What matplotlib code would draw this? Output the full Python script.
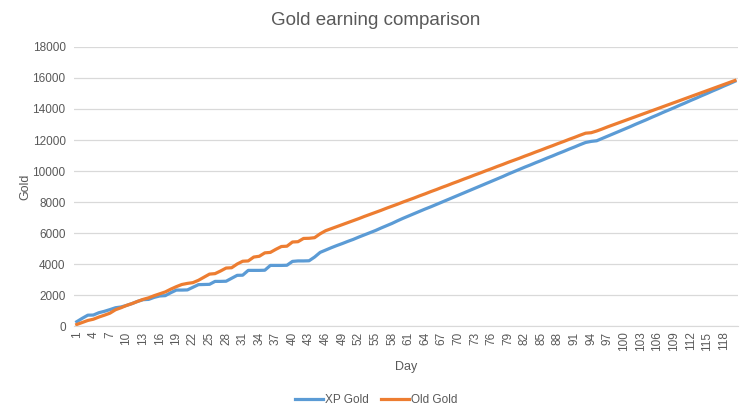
import numpy as np
import matplotlib
matplotlib.use('Agg')
import matplotlib.pyplot as plt

plt.rcParams['font.family'] = ['Liberation Sans', 'DejaVu Sans']

# 数据
days = list(range(1, 121))

xp_gold = [
    280, 500, 700, 710, 860, 950, 1060, 1180, 1230, 1330,
    1450, 1590, 1700, 1720, 1850, 1940, 1960, 2150, 2320, 2320,
    2330, 2500, 2670, 2680, 2690, 2880, 2880, 2890, 3080, 3270,
    3280, 3590, 3590, 3590, 3600, 3910, 3910, 3910, 3920, 4170,
    4200, 4200, 4210, 4450, 4750, 4900, 5050, 5190, 5320, 5460,
    5590, 5740, 5880, 6020, 6160, 6320, 6470, 6620, 6790, 6950,
    7100, 7250, 7400, 7550, 7690, 7840, 7990, 8140, 8290, 8440,
    8590, 8740, 8890, 9040, 9190, 9340, 9490, 9640, 9800, 9950,
    10100, 10250, 10390, 10540, 10680, 10830, 10970, 11120, 11260, 11410,
    11550, 11700, 11840, 11910, 11950, 12100, 12250, 12400, 12550, 12700,
    12850, 13010, 13160, 13310, 13470, 13620, 13780, 13930, 14080, 14240,
    14390, 14550, 14700, 14860, 15010, 15170, 15320, 15480, 15630, 15790,
]

old_gold = [
    100, 230, 360, 440, 580, 700, 830, 1050, 1180, 1330,
    1450, 1590, 1720, 1820, 1960, 2080, 2200, 2380, 2540, 2680,
    2750, 2800, 2950, 3150, 3350, 3380, 3550, 3740, 3760, 4000,
    4180, 4200, 4450, 4500, 4720, 4750, 4950, 5130, 5150, 5420,
    5440, 5650, 5660, 5700, 5950, 6150, 6280, 6410, 6540, 6670,
    6800, 6930, 7070, 7200, 7330, 7460, 7600, 7730, 7860, 8000,
    8130, 8260, 8400, 8530, 8670, 8800, 8940, 9070, 9210, 9340,
    9480, 9610, 9750, 9880, 10020, 10150, 10290, 10420, 10560, 10690,
    10820, 10960, 11090, 11230, 11360, 11500, 11630, 11770, 11900, 12040,
    12170, 12310, 12440, 12470, 12580, 12710, 12850, 12980, 13110, 13240,
    13370, 13500, 13630, 13760, 13890, 14020, 14150, 14280, 14410, 14540,
    14670, 14800, 14930, 15060, 15190, 15320, 15450, 15580, 15710, 15840,
]

y_ticks = [0, 2000, 4000, 6000, 8000, 10000, 12000, 14000, 16000, 18000]

fig = plt.figure(figsize=(7.52, 4.18), dpi=100)
ax = fig.add_axes([0.0984, 0.220, 0.8826, 0.6676])

ax.plot(days, xp_gold, color='#5B9BD5', lw=2.3, label='XP Gold', solid_joinstyle='round')
ax.plot(days, old_gold, color='#ED7D31', lw=2.3, label='Old Gold', solid_joinstyle='round')

ax.set_xlim(0.5, 120.5)
ax.set_ylim(0, 18000)
ax.set_yticks(y_ticks)
ax.set_yticklabels([str(v) for v in y_ticks])
ax.set_xticks(days[::3])
ax.set_xticklabels([str(d) for d in days[::3]], rotation=90)

ax.grid(axis='y', color='#D9D9D9', lw=0.9)
ax.set_axisbelow(True)
for s in ['top', 'right', 'left']:
    ax.spines[s].set_visible(False)
ax.spines['bottom'].set_color('#D9D9D9')
ax.tick_params(axis='both', length=0, labelsize=8.5, labelcolor='#595959', pad=6)
ax.tick_params(axis='x', pad=4)

ax.set_xlabel('Day', fontsize=9, color='#595959', labelpad=7)
ax.set_ylabel('Gold', fontsize=9, color='#595959', labelpad=1)
fig.text(0.5, 0.952, 'Gold earning comparison', ha='center', va='center',
         fontsize=13.5, color='#595959')

fig.legend(loc='center', bbox_to_anchor=(0.5, 0.043), ncol=2, frameon=False,
           fontsize=8.5, handlelength=2.4, columnspacing=1.0, handletextpad=0.15,
           labelcolor='#595959')

fig.savefig('out.png', dpi=100)
